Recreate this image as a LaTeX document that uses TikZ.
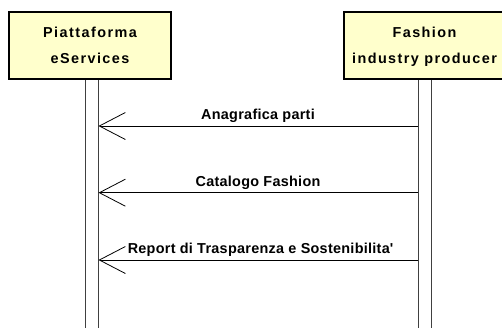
\documentclass[tikz,border=0pt]{standalone}
\usepackage{fontspec}
\setmainfont{Liberation Sans}
\newfontfamily\headfont[LetterSpace=10]{Liberation Sans}
\newfontfamily\msgfont[LetterSpace=2]{Liberation Sans}
\usetikzlibrary{arrows.meta}
\definecolor{boxfill}{HTML}{FFFFCC}
\definecolor{lifegray}{HTML}{404040}
\tikzset{
  actorbox/.style={draw=black, line width=2pt, fill=boxfill, minimum width=162pt, minimum height=67pt,
    inner sep=0pt, align=center, font=\headfont\bfseries\fontsize{14.4pt}{26pt}\selectfont},
  lifebox/.style={draw=lifegray, line width=1pt, fill=white, minimum width=13pt, minimum height=260pt, inner sep=0pt},
  msg/.style={draw=black, line width=0.8pt, -{Straight Barb[length=26pt,width=27pt,line width=0.8pt]}},
  msglabel/.style={font=\msgfont\bfseries\fontsize{14.4pt}{16pt}\selectfont, anchor=base, inner sep=0pt}
}
\begin{document}
\begin{tikzpicture}[x=1pt,y=-1pt]
\useasboundingbox (0,0) rectangle (502,327);
\node[lifebox, anchor=north] (L1) at (91.5,79) {};
\node[lifebox, anchor=north] (L2) at (424.5,79) {};
\node[actorbox] (A) at (90,45.5) {Piattaforma\\eServices};
\node[actorbox] (B) at (424.5,45.5) {Fashion\\\raisebox{0pt}[\height][0pt]{industry producer}};
\coordinate (s1) at (L2.west |- 0,126);
\coordinate (t1) at (L1.east |- 0,126);
\coordinate (s2) at (L2.west |- 0,192.7);
\coordinate (t2) at (L1.east |- 0,192.7);
\coordinate (s3) at (L2.west |- 0,260);
\coordinate (t3) at (L1.east |- 0,260);
\draw[msg] (s1) -- node[msglabel, yshift=6.5pt] (m1) {Anagrafica parti} (t1);
\draw[msg] (s2) -- node[msglabel, yshift=6.5pt] (m2) {Catalogo Fashion} (t2);
\draw[msg] (s3) -- node[msglabel, yshift=6.5pt, xshift=2.5pt] (m3) {Report di Trasparenza e Sostenibilita\textquotesingle} (t3);
\end{tikzpicture}
\end{document}
